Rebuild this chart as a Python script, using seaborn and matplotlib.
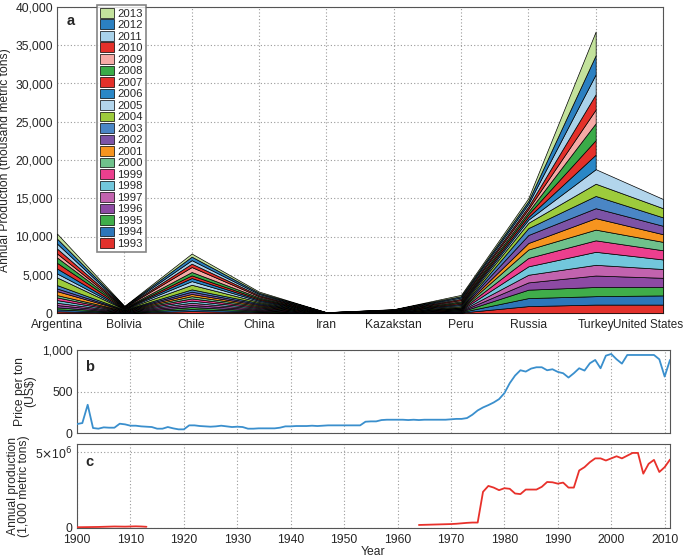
import numpy as np
import pandas as pd
import matplotlib
matplotlib.use("Agg")
import matplotlib.pyplot as plt
import matplotlib.transforms as mtransforms
import seaborn as sns
from matplotlib.ticker import FuncFormatter, FixedLocator, MultipleLocator

# ---------------- data ----------------
countries = ["Argentina", "Bolivia", "Chile", "China", "Iran", "Kazakstan",
             "Peru", "Russia", "Turkey", "United States"]
years = list(range(1993, 2014))
nan = np.nan

# production per year (thousand metric tons), 1993..2013
argentina = [220, 260, 260, 300, 300, 350, 350, 300, 520, 350, 440, 1000, 520,
             650, 740, 700, 520, 650, 650, 650, 650]
bolivia = [30, 35, 35, 40, 40, 40, 45, 45, 45, 45, 45, 50, 50, 50, 50, 50, 50,
           45, 45, 45, 45]
chile = [250, 260, 270, 280, 280, 280, 290, 290, 290, 300, 300, 600, 480, 400,
         350, 440, 650, 440, 460, 460, 400]
china = [100, 105, 110, 115, 120, 120, 125, 125, 130, 130, 135, 140, 140, 145,
         145, 150, 150, 150, 155, 155, 155]
iran = [4, 4, 4, 5, 5, 5, 5, 5, 5, 5, 5, 5, 5, 5, 5, 5, 6, 6, 6, 6, 6]
kazakstan = [20, 20, 20, 22, 22, 22, 24, 24, 24, 24, 24, 24, 24, 24, 26, 26,
             26, 26, 26, 26, 26]
peru = [60, 60, 65, 65, 70, 70, 70, 75, 75, 75, 80, 140, 150, 150, 160, 160,
        165, 165, 170, 170, 175]
russia = [900, 1050, 1100, 950, 1000, 1100, 1100, 1100, 850, 1050, 900, 700,
          400, 350, 360, 340, 350, 330, 360, 350, 370]
turkey = [1100, 1100, 1200, 1500, 1400, 1700, 1500, 1400, 1500, 1300, 1600,
          1600, 1900, 1900, 1900, 2200, 1800, 2000, 2600, 2500, 3100]
united_states = [1100, 1200, 1100, 1200, 1150, 1250, 1200, 1100, 1000, 1100,
                 1100, 1200, 1200, nan, nan, nan, nan, nan, nan, nan, nan]

year_colors = ["#e2312c", "#2d76b9", "#40ad4a", "#8d4aa3", "#c263ae",
               "#72c7dc", "#ec3f8e", "#6fc18b", "#f6941f", "#7c53a6",
               "#4a86c5", "#9dcb3c", "#b2d5ec", "#2a87c6", "#e3302a",
               "#3aab48", "#f6aaa6", "#e3302a", "#a9d2ea", "#2b80c1",
               "#c3e29c"]

# price per ton (US$), 1900..2011
price_years = list(range(1900, 2012))
price = [108, 120, 340, 60, 52, 68, 64, 64, 112, 104, 88, 88, 80, 76, 72, 52,
         52, 72, 56, 44, 44, 92, 92, 84, 80, 76, 80, 88, 80, 72, 76, 72, 52,
         52, 56, 56, 56, 56, 64, 80, 80, 84, 84, 84, 88, 84, 88, 92, 92, 92,
         92, 92, 92, 92, 136, 140, 140, 156, 160, 160, 160, 160, 156, 160, 156,
         160, 160, 160, 160, 160, 165, 170, 170, 180, 220, 272, 308, 336, 368,
         408, 480, 600, 692, 756, 740, 776, 792, 792, 756, 768, 736, 720, 668,
         720, 780, 752, 840, 880, 780, 932, 952, 888, 836, 940, 940, 940, 940,
         940, 940, 888, 680, 880]

# annual production (1,000 metric tons)
prod_years_early = list(range(1900, 1914))
prod_early = [5.0e4, 5.5e4, 6.0e4, 6.5e4, 7.0e4, 8.0e4, 9.0e4, 1.0e5, 9.5e4,
              9.0e4, 1.0e5, 1.1e5, 1.0e5, 8.0e4]
prod_years_late = list(range(1964, 2012))
prod_late = [0.20e6, 0.21e6, 0.22e6, 0.23e6, 0.24e6, 0.25e6, 0.26e6, 0.28e6,
             0.31e6, 0.34e6, 0.36e6, 0.36e6, 2.39e6, 2.78e6, 2.67e6, 2.50e6,
             2.63e6, 2.59e6, 2.28e6, 2.24e6, 2.54e6, 2.54e6, 2.54e6, 2.72e6,
             3.04e6, 3.02e6, 2.93e6, 3.00e6, 2.67e6, 2.67e6, 3.80e6, 4.02e6,
             4.35e6, 4.60e6, 4.60e6, 4.46e6, 4.60e6, 4.74e6, 4.60e6, 4.78e6,
             4.96e6, 4.96e6, 3.59e6, 4.24e6, 4.50e6, 3.70e6, 4.02e6, 4.52e6]

# ---------------- style ----------------
sns.set_style("white")
plt.rcParams["font.family"] = ["Liberation Sans", "DejaVu Sans"]
plt.rcParams["axes.edgecolor"] = "#555555"
plt.rcParams["axes.linewidth"] = 0.8

FS = 8.7
grid_kw = dict(color="#9a9a9a", linestyle=(0, (1, 2)), linewidth=0.8)

fig = plt.figure(figsize=(6.85, 5.6), dpi=100)
W, H = 685.0, 560.0
ax_a = fig.add_axes([57 / W, (H - 313) / H, (663 - 57) / W, (313 - 7) / H])
ax_b = fig.add_axes([77 / W, (H - 433) / H, (670 - 77) / W, (433 - 350) / H])
ax_c = fig.add_axes([77 / W, (H - 528) / H, (670 - 77) / W, (528 - 444) / H])


def style_ticks(ax):
    ax.tick_params(axis="both", which="major", labelsize=FS, length=3.5,
                   width=0.6, direction="in", pad=3, color="#444444")
    ax.tick_params(axis="both", which="minor", length=2, width=0.5,
                   direction="in", color="#444444")


# ---------------- panel a ----------------
M = np.array([argentina, bolivia, chile, china, iran, kazakstan, peru,
              russia, turkey, united_states], dtype=float).T
x = np.arange(len(countries))
cum = np.zeros(len(countries))
handles = []
for i, yr in enumerate(years):
    lower = cum.copy()
    upper = cum + M[i]
    h = ax_a.fill_between(x, lower, upper, facecolor=year_colors[i],
                          edgecolor="black", linewidth=0.5, label=str(yr),
                          zorder=3)
    handles.append(h)
    cum = upper

ax_a.set_xlim(0, len(countries) - 1)
ax_a.set_ylim(0, 40000)
ax_a.set_xticks(x)
ax_a.set_xticklabels(countries, fontsize=FS)
ax_a.yaxis.set_major_locator(FixedLocator(np.arange(0, 40001, 5000)))
ax_a.yaxis.set_minor_locator(MultipleLocator(1000))
ax_a.yaxis.set_major_formatter(FuncFormatter(lambda v, p: f"{int(v):,}"))
style_ticks(ax_a)
ax_a.tick_params(axis="x", pad=4.5)
ax_a.grid(True, which="major", **grid_kw)
ax_a.set_axisbelow(True)
ax_a.set_ylabel("Annual Production (thousand metric tons)", fontsize=FS,
                labelpad=3)
ax_a.text(0.016, 0.955, "a", transform=ax_a.transAxes, fontsize=10.5,
          fontweight="bold", va="center", ha="left")
# keep the last country label inside the figure
last = ax_a.get_xticklabels()[-1]
last.set_fontsize(8.4)
last.set_transform(last.get_transform() +
                   mtransforms.ScaledTranslation(-0.15, 0, fig.dpi_scale_trans))

leg = ax_a.legend(handles[::-1], [str(y) for y in years[::-1]],
                  loc="upper left", bbox_to_anchor=(0.066, 1.008),
                  borderaxespad=0, fontsize=8.2, labelspacing=0.06,
                  handlelength=1.15, handleheight=0.95, handletextpad=0.35,
                  borderpad=0.3, frameon=True, fancybox=False)
leg.get_frame().set_edgecolor("#666666")
leg.get_frame().set_linewidth(1.2)
leg.set_zorder(5)

# ---------------- panel b ----------------
df_price = pd.DataFrame({"Year": price_years, "Price": price})
sns.lineplot(data=df_price, x="Year", y="Price", ax=ax_b, color="#3a8fcd",
             linewidth=1.3, zorder=3)
ax_b.set_xlim(1900, 2011)
ax_b.set_ylim(0, 1000)
ax_b.set_xticks(range(1900, 2011, 10))
ax_b.set_xticklabels([])
ax_b.set_yticks([0, 500, 1000])
ax_b.yaxis.set_minor_locator(MultipleLocator(100))
ax_b.yaxis.set_major_formatter(FuncFormatter(lambda v, p: f"{int(v):,}"))
style_ticks(ax_b)
ax_b.grid(True, which="major", **grid_kw)
ax_b.set_axisbelow(True)
ax_b.set_xlabel("")
ax_b.set_ylabel("Price per ton\n(US$)", fontsize=FS, labelpad=4,
                linespacing=0.85)
ax_b.text(0.014, 0.8, "b", transform=ax_b.transAxes, fontsize=10.5,
          fontweight="bold", va="center", ha="left")

# ---------------- panel c ----------------
df_prod = pd.DataFrame({
    "Year": prod_years_early + prod_years_late,
    "Production": prod_early + prod_late,
    "seg": ["early"] * len(prod_years_early) + ["late"] * len(prod_years_late),
})
sns.lineplot(data=df_prod, x="Year", y="Production", units="seg",
             estimator=None, ax=ax_c, color="#e8312b", linewidth=1.3,
             zorder=3)
ax_c.set_xlim(1900, 2011)
ax_c.set_ylim(0, 5.55e6)
ax_c.set_xticks(range(1900, 2011, 10))
ax_c.set_xticklabels([str(v) for v in range(1900, 2011, 10)])
ax_c.set_yticks([0, 5e6])
ax_c.yaxis.set_minor_locator(MultipleLocator(1e6))
ax_c.set_yticklabels(["0", r"5$\times$10$^6$"])
style_ticks(ax_c)
ax_c.tick_params(axis="x", pad=4.5)
ax_c.grid(True, which="major", **grid_kw)
ax_c.set_axisbelow(True)
ax_c.set_xlabel("Year", fontsize=FS, labelpad=0)
ax_c.set_ylabel("Annual production\n(1,000 metric tons)", fontsize=FS,
                labelpad=4, linespacing=0.85)
ax_c.text(0.014, 0.78, "c", transform=ax_c.transAxes, fontsize=10.5,
          fontweight="bold", va="center", ha="left")

fig.savefig("out.png", dpi=100)
